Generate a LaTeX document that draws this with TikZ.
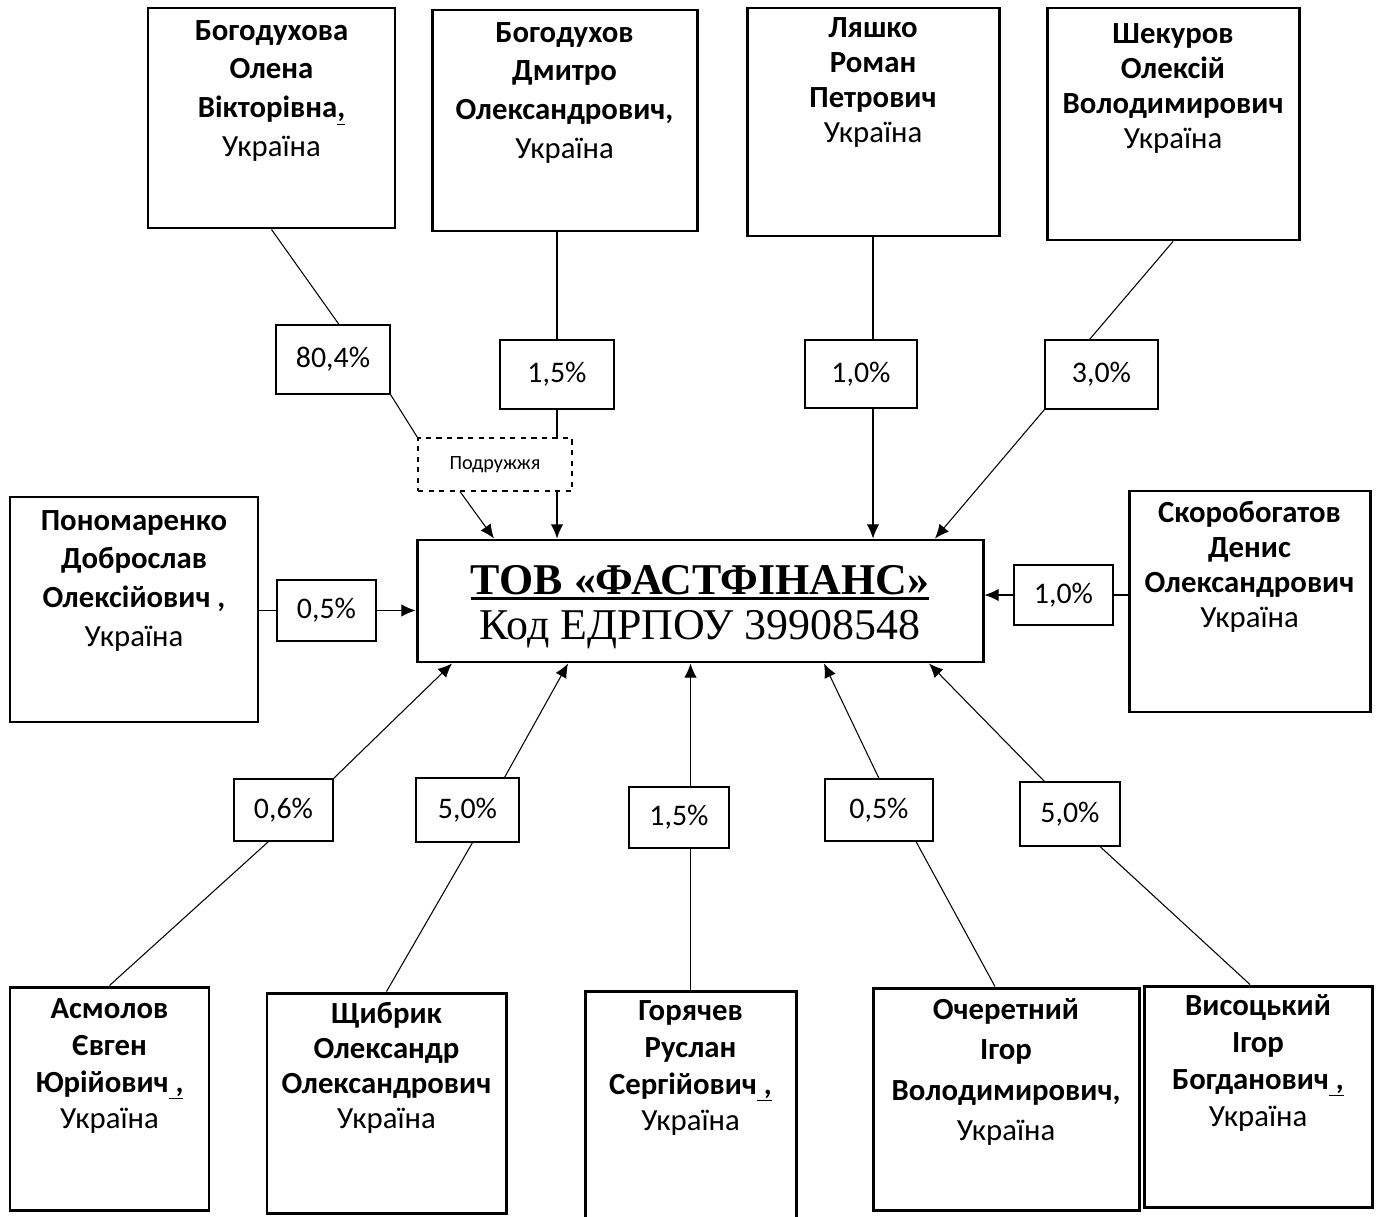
\documentclass[tikz,border=0pt]{standalone}
\usepackage{fontspec}
\setmainfont{Carlito}
\newfontfamily\tnr{Liberation Serif}
\usetikzlibrary{arrows.meta,calc}

\def\ds{0.02}
\def\punkt#1#2{({(#1)*\ds},{-(#2)*\ds})}
% Person: Name, x1, y1, x2, y2, Textoberkante, Zeilenabstand, Text
\def\person#1#2#3#4#5#6#7#8{
	\node[person, minimum width={(#4-#2)*\ds cm}, minimum height={(#5-#3)*\ds cm}] (#1) at \punkt{(#2+#4)/2}{(#3+#5)/2} {};
	\node[nametext, font={\fontsize{17.5}{#7}\selectfont}] (#1-t) at \punkt{(#2+#4)/2}{#6} {#8};
}
% Anteil: Name, x1, y1, x2, y2, Text
\def\anteil#1#2#3#4#5#6{
	\node[anteilbox, minimum width={(#4-#2)*\ds cm}, minimum height={(#5-#3)*\ds cm}] (#1) at \punkt{(#2+#4)/2}{(#3+#5)/2} {#6};
}
\def\b#1{\textbf{#1}}
\def\unterstr#1{\vtop{\hbox{#1}\kern1.2pt\hrule height 1.6pt}}

\tikzset{
	person/.style={draw, line width=1.7pt, inner sep=0pt},
	nametext/.style={anchor=north, align=center, inner sep=0pt},
	anteilbox/.style={draw, line width=0.6pt, inner sep=0pt, font=\fontsize{17}{20}\selectfont},
	conn/.style={line width=0.6pt},
}

\begin{document}
\begin{tikzpicture}[>={Latex[length=8pt,width=7pt]}]
\useasboundingbox \punkt{0}{0} rectangle \punkt{1378}{1216};

\node[draw, line width=1.7pt, minimum width={566*\ds cm}, minimum height={122*\ds cm}, inner sep=0pt] (tov) at \punkt{700}{601} {};
\node[align=center, inner sep=0pt, font={\tnr\fontsize{25}{25.5}\selectfont}] (tov-t) at \punkt{700}{607}
	{\unterstr{\b{ТОВ «ФАСТФІНАНС»}}\\Код ЕДРПОУ 39908548};

\person{bog}{148}{8}{395}{228}{20}{22pt}{\b{Богодухова}\\\b{Олена}\\\b{Вікторівна\underline{,}}\\Україна}
\person{bogd}{432}{10}{697}{231}{22}{22pt}{\b{Богодухов}\\\b{Дмитро}\\\b{Олександрович,}\\Україна}
\person{lyash}{747}{8}{999}{236}{17}{20pt}{\b{Ляшко}\\\b{Роман}\\\b{Петрович}\\Україна}
\person{shek}{1047}{8}{1299}{240}{23}{20pt}{\b{Шекуров}\\\b{Олексій}\\\b{Володимирович}\\Україна}
\person{pon}{10}{497}{258}{722}{510}{22pt}{\b{Пономаренко}\\\b{Доброслав}\\\b{Олексійович ,}\\Україна}
\person{skor}{1129}{491}{1370}{712}{501}{20pt}{\b{Скоробогатов}\\\b{Денис}\\\b{Олександрович}\\Україна}
\person{asm}{10}{987}{209}{1210}{998}{21pt}{\b{Асмолов}\\\b{Євген}\\\b{Юрійович\underline{\ ,}}\\Україна}
\person{shch}{267}{993}{506}{1213}{1002}{20pt}{\b{Щибрик}\\\b{Олександр}\\\b{Олександрович}\\Україна}
\person{gor}{585}{991}{796}{1222}{1000}{21pt}{\b{Горячев}\\\b{Руслан}\\\b{Сергійович\underline{\ ,}}\\Україна}
\person{och}{873}{988}{1139}{1210}{998}{23pt}{\b{Очеретний}\\\b{Ігор}\\\b{Володимирович,}\\Україна}
\person{vys}{1144}{986}{1372}{1207}{994}{21pt}{\b{Висоцький}\\\b{Ігор}\\\b{Богданович\underline{\ ,}}\\Україна}

\anteil{p-bog}{276}{325}{390}{394}{80,4\%}
\anteil{p-bogd}{500}{340}{614}{409}{1,5\%}
\anteil{p-lyash}{805}{340}{917}{408}{1,0\%}
\anteil{p-shek}{1045}{340}{1158}{409}{3,0\%}
\anteil{p-pon}{277}{580}{376}{641}{0,5\%}
\anteil{p-skor}{1014}{565}{1113}{625}{1,0\%}
\anteil{p-asm}{234}{779}{333}{841}{0,6\%}
\anteil{p-shch}{416}{778}{519}{842}{5,0\%}
\anteil{p-gor}{629}{787}{729}{848}{1,5\%}
\anteil{p-och}{825}{779}{933}{841}{0,5\%}
\anteil{p-vys}{1020}{782}{1120}{846}{5,0\%}

\node[draw, dashed, line width=0.6pt, minimum width={154*\ds cm}, minimum height={53*\ds cm}, inner sep=0pt,
	font=\fontsize{11.5}{13}\selectfont] (podr) at \punkt{495}{464.5} {Подружжя};

% oben
\draw[conn] (bog.south) -- ($(p-bog.north)+(6*\ds,0)$);
\draw[conn] (p-bog.south east) -- (podr.north west);
\draw[conn,->] ($(podr.south)+(-35*\ds,0)$) -- ($(tov.north)+(-206*\ds,0)$);
\draw[conn] (bogd.south -| p-bogd.north) -- (p-bogd.north);
\draw[conn] (p-bogd.south) -- (p-bogd.south |- podr.north);
\draw[conn,->] (p-bogd.south |- podr.south) -- (p-bogd.south |- tov.north);
\draw[conn] (lyash.south) -- (lyash.south |- p-lyash.north);
\draw[conn,->] (lyash.south |- p-lyash.south) -- (lyash.south |- tov.north);
\draw[conn] (shek.south) -- ($(p-shek.north)+(-12*\ds,0)$);
\draw[conn,->] (p-shek.south west) -- ($(tov.north)+(235*\ds,0)$);
% seitlich
\draw[conn] (pon.east |- p-pon.west) -- (p-pon.west);
\draw[conn,->] (p-pon.east) -- (p-pon.east -| tov.west);
\draw[conn] (skor.west |- p-skor.east) -- (p-skor.east);
\draw[conn,->] (p-skor.west) -- (p-skor.west -| tov.east);
% unten
\draw[conn] ($(p-asm.south)+(-15*\ds,0)$) -- (asm.north);
\draw[conn,->] (p-asm.north east) -- ($(tov.south)+(-248*\ds,0)$);
\draw[conn] ($(p-shch.south)+(5*\ds,0)$) -- (shch.north);
\draw[conn,->] ($(p-shch.north)+(37*\ds,0)$) -- ($(tov.south)+(-132*\ds,0)$);
\draw[conn] (gor.north) -- (gor.north |- p-gor.south);
\draw[conn,->] (gor.north |- p-gor.north) -- (gor.north |- tov.south);
\draw[conn] ($(p-och.south)+(37*\ds,0)$) -- ($(och.north)+(-11*\ds,0)$);
\draw[conn,->] (p-och.north) -- ($(tov.south)+(124*\ds,0)$);
\draw[conn] ($(p-vys.south)+(30*\ds,0)$) -- ($(vys.north)+(-8*\ds,0)$);
\draw[conn,->] ($(p-vys.north west)+(25*\ds,0)$) -- ($(tov.south)+(229*\ds,0)$);
\end{tikzpicture}
\end{document}
